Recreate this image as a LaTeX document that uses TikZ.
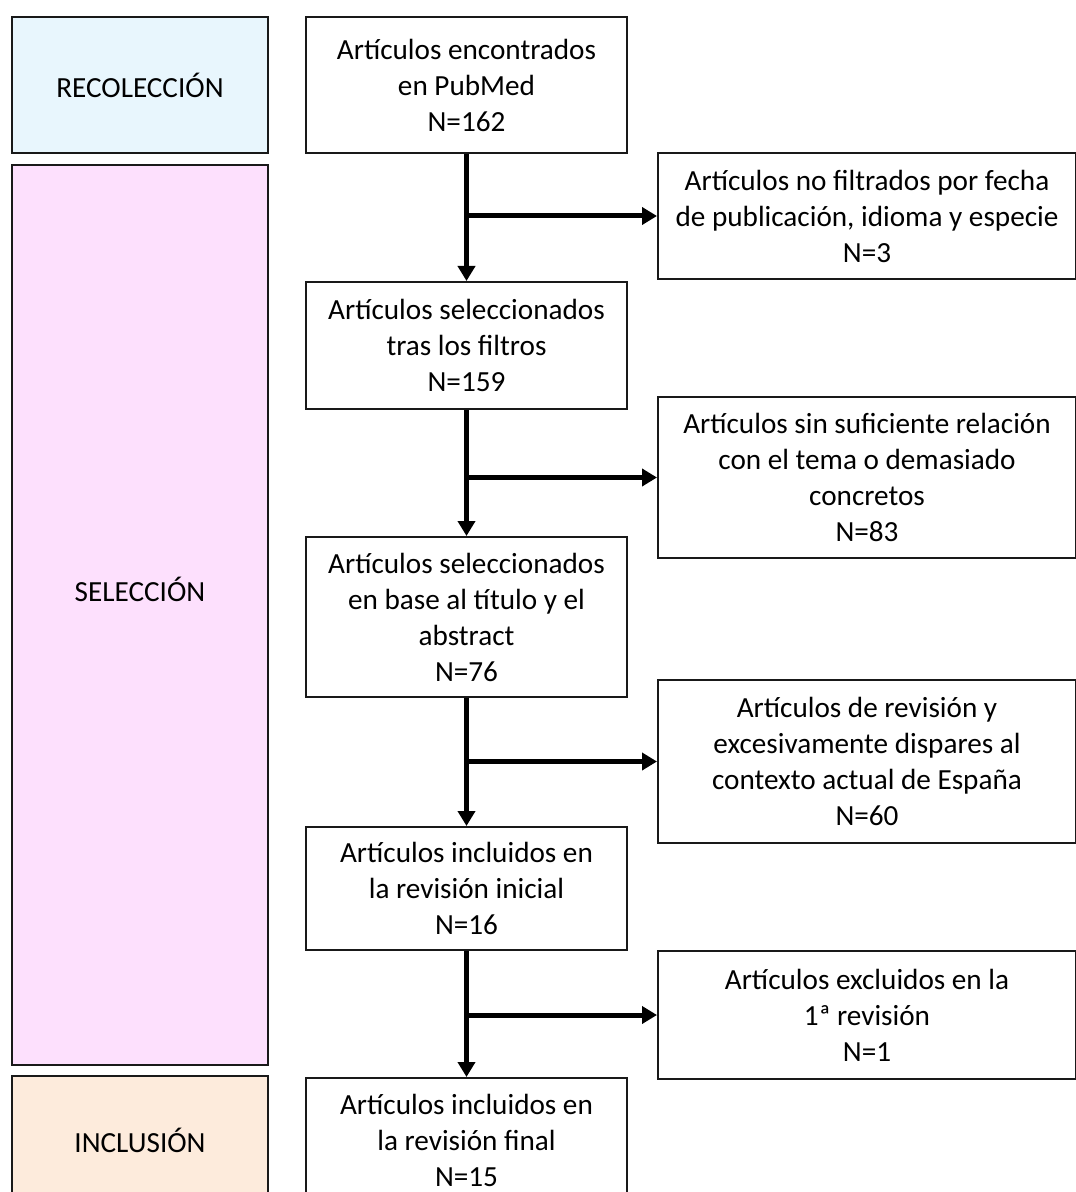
\documentclass[tikz,border=0pt]{standalone}
\usepackage{fontspec}
\setmainfont{Carlito}
\usetikzlibrary{arrows.meta}
\definecolor{recblue}{RGB}{232,246,253}
\definecolor{selpink}{RGB}{253,224,253}
\definecolor{incpeach}{RGB}{253,235,220}

\begin{document}
\begin{tikzpicture}[x=0.5pt, y=-0.5pt,
    font=\fontsize{14.6}{18}\selectfont,
    stage/.style={draw=black!90, line width=1pt, minimum width=128pt, align=center, inner sep=2pt},
    box/.style={draw=black!90, line width=1pt, fill=white, align=center, inner sep=2pt},
    mainbox/.style={box, minimum width=160.5pt},
    sidebox/.style={box, minimum width=209pt},
    flow/.style={line width=2.5pt, -{Triangle[length=7.5pt, width=8.5pt]}}]
    \useasboundingbox (0, 0) rectangle (1075, 1192);
    % stages
    \node[stage, fill=recblue, minimum height=68pt] (rec) at (140, 85) {RECOLECCIÓN};
    \node[stage, fill=selpink, minimum height=450pt, text depth=26pt] (sel) at (140, 615) {SELECCIÓN};
    \node[stage, fill=incpeach, minimum height=64pt] (inc) at (140, 1140) {INCLUSIÓN};
    % main column
    \node[mainbox, minimum height=68pt] (m1) at (466.5, 85) {Artículos encontrados\\en PubMed\\N=162};
    \node[mainbox, minimum height=63.5pt] (m2) at (466.5, 345.5) {Artículos seleccionados\\tras los filtros\\N=159};
    \node[mainbox, minimum height=80pt] (m3) at (466.5, 617) {Artículos seleccionados\\en base al título y el\\abstract\\N=76};
    \node[mainbox, minimum height=61.5pt] (m4) at (466.5, 888.5) {Artículos incluidos en\\la revisión inicial\\N=16};
    \node[mainbox, minimum height=62pt] (m5) at (466.5, 1140) {Artículos incluidos en\\la revisión final\\N=15};
    % excluded
    \node[sidebox, minimum height=63pt] (r1) at (867, 216) {Artículos no filtrados por fecha\\de publicación, idioma y especie\\N=3};
    \node[sidebox, minimum height=80.5pt] (r2) at (867, 477.5) {Artículos sin suficiente relación\\con el tema o demasiado\\concretos\\N=83};
    \node[sidebox, minimum height=81.5pt] (r3) at (867, 761.5) {Artículos de revisión y\\excesivamente dispares al\\contexto actual de España\\N=60};
    \node[sidebox, minimum height=64pt] (r4) at (867, 1015) {Artículos excluidos en la\\1ª revisión\\N=1};
    % flow
    \draw[flow] (m1) -- (m2);
    \draw[flow] (m2) -- (m3);
    \draw[flow] (m3) -- (m4);
    \draw[flow] (m4) -- (m5);
    \draw[flow] (r1.west -| m1) -- (r1.west);
    \draw[flow] (r2.west -| m2) -- (r2.west);
    \draw[flow] (r3.west -| m3) -- (r3.west);
    \draw[flow] (r4.west -| m4) -- (r4.west);
\end{tikzpicture}
\end{document}
